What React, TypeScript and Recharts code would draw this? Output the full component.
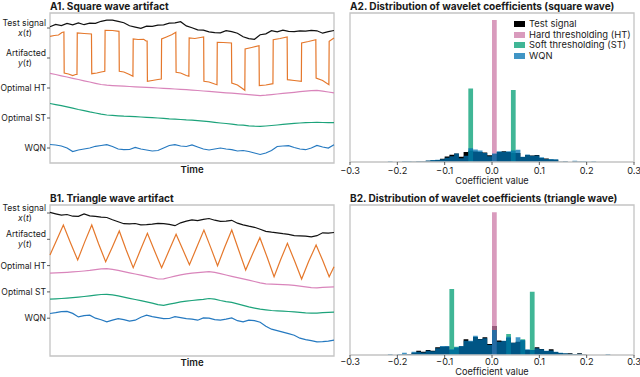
import React from "react";
import { LineChart, Line, XAxis, YAxis, ComposedChart, Area, ReferenceArea } from "recharts";

const FONT = "Inter, 'Noto Sans', 'DejaVu Sans', sans-serif";

// ---- left panels: stacked time traces ----
const traceNames = ["Test signal", "Artifacted", "Optimal HT", "Optimal ST", "WQN"];
const traceSymbols = ["x", "y", "", "", ""];
const traceColors = ["#111111", "#e5782c", "#d985bb", "#1da37b", "#2579c0"];

// sample times (arbitrary units), shared by the smooth traces
const timeGrid = Array.from({ length: 51 }, (_, i) => i * 2);

// A1 (square wave)
const testA = [1.3, 3.6, 2.4, 4.6, 3.2, 5.1, 3.3, 4.8, 4.6, 6.7, 7.8, 7.9, 6.6, 5.3, 2.2, 0.9, -0.3, 1.8, 1.7, 2.9, 3.2, 4.8, 5.2, 6.3, 2.1, 0.3, -1.8, -2.2, -3.8, -4.7, -4.8, -2.7, -3.7, -5.2, -8.8, -10.6, -11.3, -6.7, -5.8, -2.7, -3.8, -2.2, -3.3, -3.7, -2.8, -3.2, -2.3, -2.8, -5.2, -3.7, -2.5];
const squareArtifact: [number, number][] = [
  [0, 21.7], [1.5, 22.5], [3, 23], [4.2, 25.5], [4.9, 26], [5.0, -15], [6.5, -16], [8, -17.5], [9.0, -16.5], [9.5, -16.5],
  [9.6, 25], [12, 24.5], [14.6, 24], [14.7, -15.7], [16.5, -15], [18, -14], [19.3, -13.3], [19.4, 27.7], [22, 27.5], [24.3, 26.7],
  [24.4, -13.3], [26, -14], [28, -16.5], [29.2, -18.3], [29.3, 19], [31, 18.5], [33, 18.7], [33.8, 17], [34.2, 17],
  [34.3, -23.3], [36, -22.5], [38, -21.5], [39.2, -21], [39.3, 19], [41, 21], [43, 23.5], [44.3, 25.7],
  [44.4, -14.3], [46, -15], [48, -17.5], [48.9, -18.3], [49.0, 20], [51, 19.5], [53, 20.5], [54.1, 21],
  [54.2, -23.3], [56, -24], [58, -26], [58.8, -26.7], [58.9, 15.7], [61, 15.5], [63.9, 15],
  [64.0, -25], [66, -27], [67.5, -30], [68.6, -32.3], [68.7, 9], [71, 10.5], [73.6, 12.3],
  [73.7, -27.7], [76, -27], [78.5, -25.7], [78.6, 18.3], [81, 19.5], [83.5, 21],
  [83.6, -21.7], [86, -22.5], [88.5, -23.3], [88.6, 15], [91, 16.5], [93.6, 18.3],
  [93.7, -20], [96, -22.5], [98.2, -26.7], [98.3, 16.7], [100, 20],
];
const htA = [14.7, 13.5, 12.2, 11, 9.7, 8.5, 7.2, 6, 4.7, 3.5, 2.8, 2.4, 2.1, 1.8, 1.5, 1.2, 0.9, 0.6, 0.3, 0, -0.4, -0.7, -1.0, -1.3, -1.7, -2.1, -2.5, -3.0, -3.4, -3.9, -4.3, -4.8, -5.2, -5.7, -6.1, -6.6, -7.1, -7.6, -7.2, -6.6, -6.0, -5.4, -4.8, -4.3, -3.7, -3.1, -2.6, -2.4, -3.2, -4.0, -4.8];
const stA = [14.5, 13.4, 12.3, 11.1, 9.8, 8.5, 7.4, 6.1, 5, 3.8, 3.0, 2.7, 2.2, 1.8, 1.6, 1.4, 1.0, 0.6, 0.3, 0, -0.3, -0.8, -1.1, -1.5, -1.9, -2.1, -2.6, -3.2, -3.7, -4.4, -5.0, -5.5, -6.2, -6.8, -7.2, -7.8, -8.2, -8.4, -8.0, -7.5, -7.0, -6.4, -5.9, -5.4, -5.0, -4.7, -4.5, -4.4, -4.5, -4.6, -4.7];
const wqnA = [3.5, 3, 2, 0, -3.5, -2, -1, 0, 1.7, 2.5, 3.3, 1.5, -1, -1.7, -1.5, 0.5, -1, -2, -3, -2.5, 0, 2.5, 3.3, 2, 1.5, 3, 1, -1, -2, -1, 0, -1, -1.7, -3, -2.5, -3.5, -5, -6.5, -5, -2.5, 1.5, 2, 2.3, 0.5, -1, -1.7, 0, 2.5, 1, 0, 3.3];

// B1 (triangle wave)
const testB = [0.7, -0.8, -2.2, -1.5, -3.2, -3.3, -1, -2.8, -3.3, -4.2, -4.5, -6.8, -8.8, -10.7, -10.8, -10.5, -11.8, -11.7, -11.2, -10.3, -10.7, -11.3, -12.7, -9.8, -8.2, -6.8, -7.7, -6.3, -5.5, -7.2, -8.3, -8.2, -7.3, -10.2, -11.8, -13.2, -14.3, -16.2, -18.3, -19.2, -19.8, -20.7, -21.3, -22.7, -22.8, -23.2, -23.8, -22.7, -19.8, -20.2, -19.5];
const triangleArtifact: [number, number][] = [
  [0, -15.7], [2.4, -0.5], [4.7, 14.3], [7.2, -3.5], [9.75, -20.7], [12.2, -2.8], [14.7, 14.3], [17.1, -4.5], [19.6, -22.4],
  [22, -7.5], [24.4, 8.3], [26.8, -10.5], [29.3, -28.4], [31.8, -11], [34.3, 6], [36.8, -11.5], [39.3, -28.4], [41.8, -12],
  [44.4, 5], [46.8, -10.5], [49.1, -25.5], [51.6, -8.5], [54.2, 9.3], [56.6, -8.3], [59, -26.4], [61.5, -8], [64, 9.3],
  [66.4, -10.5], [68.9, -30.7], [71.4, -14.2], [73.9, 1.6], [76.4, -17.5], [78.9, -37.4], [81.2, -20.5], [83.6, -4],
  [86.1, -21.5], [88.6, -39.7], [91.1, -22], [93.7, -5.7], [96, -21], [98.3, -37.4], [100, -27.4],
];
const htB = [-7.6, -7.3, -7.0, -6.7, -6.3, -5.9, -5.4, -4.8, -4.0, -3.3, -3.0, -3.8, -4.8, -6.0, -7.2, -8.4, -9.6, -10.8, -12.0, -13.4, -13.2, -11.9, -10.6, -9.3, -8.3, -7.6, -7.0, -6.5, -6.1, -6.8, -8.1, -9.4, -10.7, -12.0, -13.3, -14.6, -15.9, -17.2, -18.3, -18.5, -18.8, -19.0, -19.3, -19.8, -20.5, -21.3, -22.0, -22.2, -21.8, -21.5, -21.3];
const stB = [-7.3, -7.0, -6.6, -6.2, -5.7, -5.2, -4.6, -3.9, -3.2, -2.6, -2.4, -3.0, -4.0, -5.2, -6.4, -7.6, -8.8, -10.0, -11.3, -12.8, -13.4, -12.3, -11.2, -10.0, -9.2, -8.6, -8.0, -7.4, -6.6, -7.3, -8.6, -9.7, -10.5, -12.0, -13.5, -15.0, -16.2, -17.3, -18.0, -18.6, -19.0, -19.3, -19.6, -20.0, -20.5, -21.0, -21.3, -21.2, -20.8, -20.5, -20.3];
const wqnB = [4.7, 5.5, 6.5, 6.8, 4.8, 1.3, 2.5, 3, 0, -1.5, -3.7, -2, -0.5, -1.5, -3, -2, 1, 3, 1.5, 0.5, -0.5, -0.3, 1.5, 0.5, -0.5, -1, -2, 0.3, 0, -1.5, -2, -1, 0.3, -2.5, -3.7, -2, -2.5, -4, -8, -11, -12.5, -14, -15.5, -17, -20, -21.5, -22.5, -23.7, -23.5, -23, -22];

// ---- right panels: histograms of wavelet coefficients (bin width 0.01) ----
const binStarts = [-0.23, -0.22, -0.21, -0.2, -0.19, -0.18, -0.17, -0.16, -0.15, -0.14, -0.13, -0.12, -0.11, -0.1, -0.09, -0.08, -0.07, -0.06, -0.05, -0.04, -0.03, -0.02, -0.01, 0, 0.01, 0.02, 0.03, 0.04, 0.05, 0.06, 0.07, 0.08, 0.09, 0.1, 0.11, 0.12, 0.13, 0.14, 0.15, 0.16, 0.17, 0.18, 0.19, 0.2, 0.21, 0.22, 0.23, 0.24, 0.25];
const histNames = ["Test signal", "Hard thresholding (HT)", "Soft thresholding (ST)", "WQN"];
const histColors = ["#000000", "#CC79A7", "#009E73", "#0072B2"];
const histOpacity = [1, 0.75, 0.75, 0.75];
const coefTicks = [-0.3, -0.2, -0.1, 0, 0.1, 0.2, 0.3];

const testHistA = [0, 0, 0, 0, 0.3, 0.3, 0.3, 0.5, 0.5, 1.2, 1.8, 2, 3.3, 5.5, 7.3, 8.5, 5.2, 10, 11.3, 10.5, 10, 9.5, 6.7, 8, 10, 10.7, 10, 9, 9, 5, 7, 6.5, 7, 4, 3.5, 2.5, 2.3, 0.3, 0.5, 0, 0.5, 0.3, 0, 0, 0, 0, 0, 0, 0];
const htHistA = [0, 0, 0, 0, 0, 0, 0, 0, 0, 0, 0, 0, 0, 0, 0, 0, 0, 0, 0, 0, 0, 0, 0, 143, 0, 0, 0, 0, 0, 0, 0, 0, 0, 0, 0, 0, 0, 0, 0, 0, 0, 0, 0, 0, 0, 0, 0, 0, 0];
const stHistA = [0, 0, 0, 0, 0, 0, 0, 0, 0, 0, 0, 0, 0, 0, 0, 0, 0, 0, 74, 0, 0, 0, 0, 0, 0, 0, 0, 72.5, 0, 0, 0, 0, 0, 0, 0, 0, 0, 0, 0, 0, 0, 0, 0, 0, 0, 0, 0, 0, 0];
const wqnHistA = [0, 0.8, 0, 0.3, 0.8, 0.7, 0.3, 0.8, 0.5, 1.5, 2, 2.3, 2.7, 4.2, 5.7, 8.5, 3.8, 6.3, 13.8, 12.7, 11.5, 9, 5.8, 8.5, 10.7, 10.2, 10.7, 11.7, 12.3, 5.2, 7.5, 6.3, 6.5, 4.8, 3, 3, 2.7, 0.3, 0.7, 0, 1.3, 0.5, 0.7, 0.3, 0.7, 0, 0, 0, 0];

const testHistB = [0, 0, 0, 0.3, 1, 1, 2.3, 4.3, 3.3, 5, 4.3, 7.7, 8.3, 8.5, 5, 7, 8.7, 15.7, 13.5, 18, 16, 17.7, 11, 29, 14.5, 14, 17, 12.3, 13.3, 14.5, 5, 5, 7.7, 6, 4, 5.7, 3, 2, 1.5, 1.7, 1, 1.7, 0.5, 0, 0, 0, 0, 0, 0];
const htHistB = [0, 0, 0, 0, 0, 0, 0, 0, 0, 0, 0, 0, 0, 0, 0, 0, 0, 0, 0, 0, 0, 0, 0, 142.7, 0, 0, 0, 0, 0, 0, 0, 0, 0, 0, 0, 0, 0, 0, 0, 0, 0, 0, 0, 0, 0, 0, 0, 0, 0];
const stHistB = [0, 0, 0, 0, 0, 0, 0, 0, 0, 0, 0, 0, 0, 0, 66, 8.3, 0, 0, 0, 0, 0, 0, 0, 0, 0, 0, 21, 0, 0, 15.7, 0, 63.3, 0, 0, 0, 0, 0, 0, 0, 0, 0, 0, 0, 0, 0, 0, 0, 0, 0];
const wqnHistB = [0, 1, 0, 1, 2.3, 0.7, 3.3, 3.3, 2.5, 4.3, 3.7, 6.7, 9, 9, 5.7, 7.7, 9, 14.3, 14.3, 19.3, 15.7, 16.7, 10, 25, 13.3, 14.3, 18.3, 12.3, 17.7, 15, 5.7, 5, 6.7, 5.7, 4.3, 4.5, 3.3, 2.3, 1.7, 1.2, 1, 1.2, 0.3, 0, 0, 0, 0, 1, 0];

const TEXT = "#1a1a1a";
const FRAME = "#c4c4c4";
const LABEL_SIZE = 9.2;
const TRACE_LABEL_SIZE = 8.6;

function Title({ text, left, top }: { text: string; left: number; top: number }) {
  return (
    <div style={{ position: "absolute", left, top, fontSize: 10.1, fontWeight: 700, lineHeight: "12px", whiteSpace: "nowrap", color: TEXT }}>
      {text}
    </div>
  );
}

function TraceTick(props: any) {
  const { x, y, payload, spacing, lineGap } = props;
  const idx = Math.round(-payload.value / spacing);
  const name = traceNames[idx];
  const sym = traceSymbols[idx];
  const style = { fontSize: TRACE_LABEL_SIZE, fill: TEXT };
  if (!sym) {
    return (
      <text x={x} y={y} dy="0.35em" textAnchor="end" style={style}>
        {name}
      </text>
    );
  }
  return (
    <g>
      <text x={x} y={y - lineGap} dy="0.35em" textAnchor="end" style={style}>
        {name}
      </text>
      <text x={x - 21} y={y + lineGap} dy="0.35em" textAnchor="middle" style={style}>
        <tspan fontStyle="italic">{sym}</tspan>(<tspan fontStyle="italic">t</tspan>)
      </text>
    </g>
  );
}

interface TraceProps {
  test: number[];
  artifact: [number, number][];
  ht: number[];
  st: number[];
  wqn: number[];
  spacing: number;
  lo: number;
  hi: number;
  height: number;
  marginTop: number;
  axisHeight: number;
  labelOffset: number;
  lineGap: number;
}

function TracePanel(p: TraceProps) {
  const sp = p.spacing;
  const rows = timeGrid.map((t, i) => ({
    t,
    test: p.test[i],
    ht: p.ht[i] - 2 * sp,
    st: p.st[i] - 3 * sp,
    wqn: p.wqn[i] - 4 * sp,
  }));
  const artRows = p.artifact.map(([t, v]) => ({ t, art: v - sp }));
  const ticks = [0, -sp, -2 * sp, -3 * sp, -4 * sp];
  const common = { dot: false, activeDot: false, isAnimationActive: false, strokeWidth: 1.2, type: "linear" as const };
  return (
    <LineChart width={340} height={p.height} data={rows} margin={{ top: p.marginTop, right: 6, bottom: 0, left: 0 }}>
      <XAxis
        type="number"
        dataKey="t"
        domain={[0, 100]}
        tick={false}
        tickLine={false}
        axisLine={false}
        height={p.axisHeight}
        label={{ value: "Time", position: "insideBottom", offset: p.labelOffset, fontSize: 9.6, fontWeight: 600, fill: TEXT }}
      />
      <YAxis
        type="number"
        domain={[p.lo, p.hi]}
        ticks={ticks}
        interval={0}
        allowDataOverflow
        width={50}
        tickSize={3}
        tickMargin={1}
        axisLine={false}
        tickLine={{ stroke: "#333", strokeWidth: 0.8 }}
        tick={(tp: any) => <TraceTick {...tp} spacing={sp} lineGap={p.lineGap} />}
      />
      <ReferenceArea x1={0} x2={100} y1={p.lo} y2={p.hi} fill="none" stroke={FRAME} strokeWidth={1.3} />
      <Line dataKey="test" stroke={traceColors[0]} {...common} />
      <Line data={artRows} dataKey="art" stroke={traceColors[1]} {...common} />
      <Line dataKey="ht" stroke={traceColors[2]} {...common} />
      <Line dataKey="st" stroke={traceColors[3]} {...common} />
      <Line dataKey="wqn" stroke={traceColors[4]} {...common} />
    </LineChart>
  );
}

interface HistProps {
  series: number[][];
  height: number;
  marginTop: number;
  axisHeight: number;
  tickMargin: number;
  labelOffset: number;
}

const fmtCoef = (v: number) => (v < 0 ? "\u2212" : "") + Math.abs(v).toFixed(1);

function HistPanel(p: HistProps) {
  const keys = ["test", "ht", "st", "wqn"];
  const rows = binStarts.map((x, i) => {
    const r: any = { x };
    keys.forEach((k, j) => (r[k] = p.series[j][i]));
    return r;
  });
  rows.push({ x: 0.26, test: 0, ht: 0, st: 0, wqn: 0 });
  return (
    <ComposedChart width={310} height={p.height} data={rows} margin={{ top: p.marginTop, right: 6, bottom: 0, left: 20 }}>
      <XAxis
        type="number"
        dataKey="x"
        domain={[-0.3, 0.3]}
        ticks={coefTicks}
        interval={0}
        allowDataOverflow
        tickFormatter={fmtCoef}
        axisLine={false}
        tickSize={3}
        tickMargin={p.tickMargin}
        tickLine={{ stroke: "#333", strokeWidth: 0.8 }}
        tick={{ fontSize: LABEL_SIZE, fill: TEXT }}
        height={p.axisHeight}
        label={{ value: "Coefficient value", position: "insideBottom", offset: p.labelOffset, fontSize: LABEL_SIZE, fill: TEXT }}
      />
      <YAxis hide type="number" domain={[0, 150]} allowDataOverflow />
      {keys.map((k, j) => (
        <Area
          key={k}
          type="stepAfter"
          dataKey={k}
          stroke="none"
          fill={histColors[j]}
          fillOpacity={histOpacity[j]}
          dot={false}
          activeDot={false}
          isAnimationActive={false}
        />
      ))}
      <ReferenceArea x1={-0.3} x2={0.3} y1={0} y2={150} fill="none" stroke={FRAME} strokeWidth={1.3} />
    </ComposedChart>
  );
}

function HistLegend({ left, top }: { left: number; top: number }) {
  return (
    <div style={{ position: "absolute", left, top }}>
      {histNames.map((n, i) => (
        <div key={n} style={{ display: "flex", alignItems: "center", height: 10.5 }}>
          <div style={{ width: 11, height: 6, background: histColors[i], opacity: histOpacity[i], marginRight: 4 }} />
          <span style={{ fontSize: 9.4, color: TEXT, lineHeight: "10px", whiteSpace: "nowrap" }}>{n}</span>
        </div>
      ))}
    </div>
  );
}

export default function App() {
  return (
    <div style={{ position: "absolute", left: 0, top: 0, width: 640, height: 377, background: "#fff", fontFamily: FONT, overflow: "hidden" }}>
      <div style={{ position: "absolute", left: 0, top: 0 }}>
        <TracePanel test={testA} artifact={squareArtifact} ht={htA} st={stA} wqn={wqnA} spacing={30} lo={-135} hi={15} height={180} marginTop={13} axisHeight={17} labelOffset={7} lineGap={5} />
      </div>
      <div style={{ position: "absolute", left: 330, top: 0 }}>
        <HistPanel series={[testHistA, htHistA, stHistA, wqnHistA]} height={185} marginTop={13} axisHeight={23} tickMargin={2} labelOffset={1} />
      </div>
      <div style={{ position: "absolute", left: 0, top: 190 }}>
        <TracePanel test={testB} artifact={triangleArtifact} ht={htB} st={stB} wqn={wqnB} spacing={26.3} lo={-143} hi={8} height={187} marginTop={15} axisHeight={21} labelOffset={11} lineGap={5} />
      </div>
      <div style={{ position: "absolute", left: 330, top: 190 }}>
        <HistPanel series={[testHistB, htHistB, stHistB, wqnHistB]} height={187} marginTop={15} axisHeight={22} tickMargin={0} labelOffset={2} />
      </div>
      <HistLegend left={514} top={19} />
      <Title text="A1. Square wave artifact" left={50} top={0} />
      <Title text="A2. Distribution of wavelet coefficients (square wave)" left={350} top={0} />
      <Title text="B1. Triangle wave artifact" left={50} top={192} />
      <Title text="B2. Distribution of wavelet coefficients (triangle wave)" left={350} top={192} />
    </div>
  );
}
